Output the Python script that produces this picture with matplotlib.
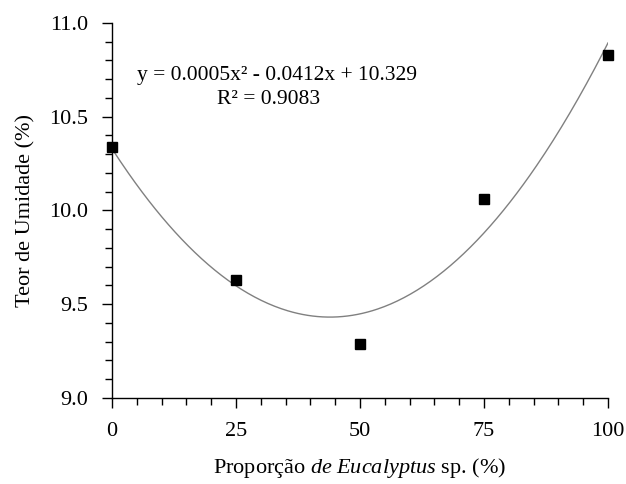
import numpy as np
import matplotlib
matplotlib.use("Agg")
import matplotlib.pyplot as plt
from matplotlib.ticker import MultipleLocator

plt.rcParams['font.family'] = ['Liberation Serif', 'DejaVu Serif']
plt.rcParams['mathtext.fontset'] = 'custom'
plt.rcParams['mathtext.rm'] = 'Liberation Serif'
plt.rcParams['mathtext.it'] = 'Liberation Serif:italic'

proporcao = [0, 25, 50, 75, 100]
umidade = [10.34, 9.63, 9.29, 10.06, 10.83]
equacao = "y = 0.0005x² - 0.0412x + 10.329"
r2 = "R² = 0.9083"

fig = plt.figure(figsize=(6.26, 4.84), dpi=100)
ax = fig.add_axes([0.1789, 0.1777, 0.7923, 0.7748])

# curva de ajuste quadratica
coef = np.polyfit(proporcao, umidade, 2)
xs = np.linspace(0, 100, 300)
ax.plot(xs, np.polyval(coef, xs), color='#808080', lw=1.0)

ax.plot(proporcao, umidade, 's', color='black', ms=6.5, clip_on=False, zorder=5)

ax.set_xlim(0, 100)
ax.set_ylim(9.0, 11.0)
ax.xaxis.set_major_locator(MultipleLocator(25))
ax.xaxis.set_minor_locator(MultipleLocator(5))
ax.yaxis.set_major_locator(MultipleLocator(0.5))
ax.yaxis.set_minor_locator(MultipleLocator(0.1))
ax.yaxis.set_major_formatter(matplotlib.ticker.FormatStrFormatter('%.1f'))

for s in ['top', 'right']:
    ax.spines[s].set_visible(False)
for s in ['left', 'bottom']:
    ax.spines[s].set_linewidth(1.0)

ax.tick_params(which='major', length=7, width=1, labelsize=16, direction='out')
ax.tick_params(which='minor', length=5, width=1, direction='out')
ax.tick_params(axis='x', pad=10)
ax.tick_params(axis='y', pad=10)

ax.set_ylabel("Teor de Umidade (%)", fontsize=16, labelpad=10)
ax.set_xlabel("Proporção $\\it{de\\ Eucalyptus}$ sp. (%)", fontsize=16, labelpad=11)

ax.text(0.332, 0.861, equacao, transform=ax.transAxes, ha='center', va='center', fontsize=15.5)
ax.text(0.315, 0.795, r2, transform=ax.transAxes, ha='center', va='center', fontsize=15.5)

fig.savefig("out.png", dpi=100)
